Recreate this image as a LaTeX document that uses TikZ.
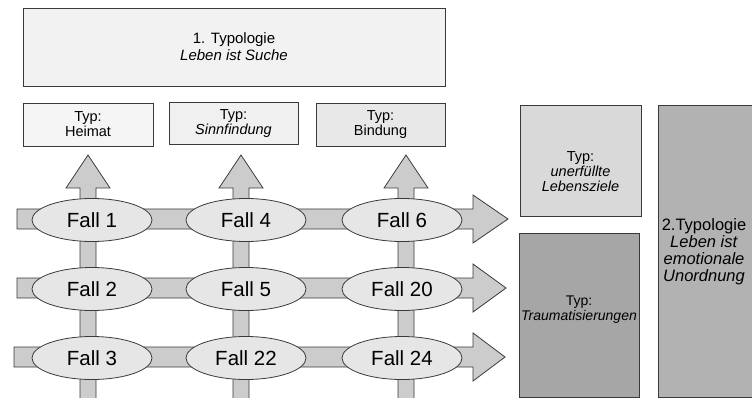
\documentclass[tikz,border=0pt]{standalone}
\usepackage{fontspec}
\setmainfont{Liberation Sans}
\usetikzlibrary{shapes.geometric}

\definecolor{randgrau}{HTML}{3A3A3A}
\definecolor{pfeilgrau}{HTML}{CCCCCC}
\definecolor{fallgrau}{HTML}{E6E6E6}

\tikzset{
	kasten/.style={draw=randgrau,line width=0.9pt,inner sep=0pt,align=center},
	blockpfeil/.style={draw=randgrau,line width=0.8pt,fill=pfeilgrau,line join=miter},
	fall/.style={ellipse,draw=randgrau,line width=0.8pt,fill=fallgrau,minimum width=120pt,minimum height=43pt,inner sep=0pt,font=\fontsize{20.5}{22}\selectfont},
	typtext/.style={align=center,font=\fontsize{14.5}{15}\selectfont}
}

\begin{document}
\begin{tikzpicture}[x=1pt,y=-1pt]
				\clip (0,0) rectangle (752,398);
				\node[kasten,fill=black!5,minimum width=422pt,minimum height=78pt,font=\fontsize{15}{17}\selectfont] (typ1) at (234,47) {1. Typologie\\\textit{Leben ist Suche}};
				\node[kasten,fill=black!4,minimum width=130pt,minimum height=43pt,font=\fontsize{14.5}{15}\selectfont] (heimat) at (88,124.5) {Typ:\\Heimat};
				\node[kasten,fill=black!6,minimum width=129pt,minimum height=42pt,font=\fontsize{14.5}{15}\selectfont] (sinn) at (233.5,123.5) {Typ:\\\textit{Sinnfindung}};
				\node[kasten,fill=black!9,minimum width=129pt,minimum height=43pt,font=\fontsize{14.5}{15}\selectfont] (bindung) at (380.5,124.5) {Typ:\\Bindung};
				\node[kasten,fill=black!15,minimum width=121pt,minimum height=111pt] (ziele) at (580.5,160.5) {};
				\node[typtext] (zieletext) at (580.5,172) {Typ:\\\textit{unerfüllte}\\\textit{Lebensziele}};
				\node[kasten,fill=black!35,minimum width=120pt,minimum height=164pt] (trauma) at (579,315) {};
				\node[typtext,font=\fontsize{14}{15}\selectfont] (traumatext) at (579,310) {Typ:\\\textit{Traumatisierungen}};
				\node[kasten,fill=black!30,minimum width=112pt,minimum height=292pt] (typ2) at (714,251) {};
				\node[align=center,font=\fontsize{16.5}{17}\selectfont] (typ2text) at (704,252) {2.Typologie\\\textit{Leben ist}\\\textit{emotionale}\\\textit{Unordnung}};

				\foreach \y/\s/\t in {219/17/508,288/17/506,357/14/505}
					\draw[blockpfeil] (\s,{\y-10}) -- (473,{\y-10}) -- (473,{\y-24}) -- (\t,\y) -- (473,{\y+24}) -- (473,{\y+10}) -- (\s,{\y+10}) -- cycle;
				\foreach \x in {88,241,406}
					\draw[blockpfeil] ({\x-8},420) -- ({\x-8},188) -- ({\x-22},188) -- (\x,155) -- ({\x+22},188) -- ({\x+8},188) -- ({\x+8},420) -- cycle;

				\foreach \nm/\cx/\cy in {1/92/220,4/246/220,6/402/220,2/92/289,5/246/289,20/402/289,3/92/358,22/246/358,24/402/358}
					\node[fall] (fall\nm) at (\cx,\cy) {Fall \nm};
			\end{tikzpicture}
\end{document}
